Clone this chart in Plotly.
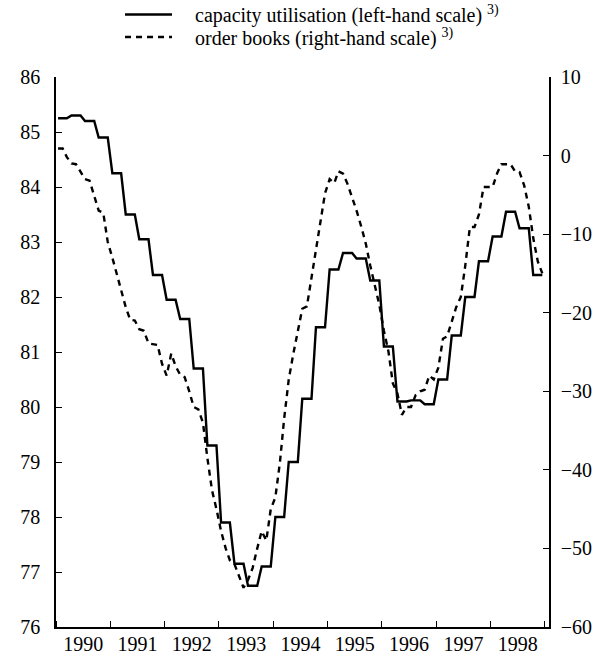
import plotly.graph_objects as go

# ---- data -------------------------------------------------------------
years = [1990, 1991, 1992, 1993, 1994, 1995, 1996, 1997, 1998]

# capacity utilisation (%), monthly (quarterly survey values held for each month)
capacity_1990 = [85.25, 85.25, 85.25, 85.3, 85.3, 85.3, 85.2, 85.2, 85.2, 84.9, 84.9, 84.9]
capacity_1991 = [84.25, 84.25, 84.25, 83.5, 83.5, 83.5, 83.05, 83.05, 83.05, 82.4, 82.4, 82.4]
capacity_1992 = [81.95, 81.95, 81.95, 81.6, 81.6, 81.6, 80.7, 80.7, 80.7, 79.3, 79.3, 79.3]
capacity_1993 = [77.9, 77.9, 77.9, 77.15, 77.15, 77.15, 76.75, 76.75, 76.75, 77.1, 77.1, 77.1]
capacity_1994 = [78.0, 78.0, 78.0, 79.0, 79.0, 79.0, 80.15, 80.15, 80.15, 81.45, 81.45, 81.45]
capacity_1995 = [82.5, 82.5, 82.5, 82.8, 82.8, 82.8, 82.7, 82.7, 82.7, 82.3, 82.3, 82.3]
capacity_1996 = [81.1, 81.1, 81.1, 80.1, 80.1, 80.1, 80.12, 80.12, 80.12, 80.05, 80.05, 80.05]
capacity_1997 = [80.5, 80.5, 80.5, 81.3, 81.3, 81.3, 82.0, 82.0, 82.0, 82.65, 82.65, 82.65]
capacity_1998 = [83.1, 83.1, 83.1, 83.55, 83.55, 83.55, 83.25, 83.25, 83.25, 82.4, 82.4, 82.4]

# order books (balance, %), monthly
orders_1990 = [0.9, 0.9, -0.2, -1.0, -1.1, -2.0, -3.0, -3.2, -5.0, -7.0, -7.3, -11.0]
orders_1991 = [-13.0, -15.2, -17.3, -19.3, -20.9, -21.0, -22.1, -22.3, -23.9, -24.0, -24.1, -26.5]
orders_1992 = [-28.0, -25.2, -26.8, -27.9, -28.2, -30.0, -32.0, -32.3, -34.0, -38.5, -42.6, -45.0]
orders_1993 = [-47.8, -50.0, -51.5, -52.0, -53.5, -55.0, -54.0, -52.5, -50.0, -47.8, -49.0, -45.0]
orders_1994 = [-43.5, -39.0, -33.5, -28.5, -25.3, -22.2, -19.5, -19.2, -15.5, -11.5, -8.0, -4.8]
orders_1995 = [-3.0, -3.5, -2.0, -2.3, -3.6, -5.2, -7.0, -9.0, -11.2, -14.0, -16.5, -19.0]
orders_1996 = [-22.3, -25.0, -29.0, -30.3, -33.0, -32.0, -32.0, -30.5, -30.0, -29.8, -28.0, -28.5]
orders_1997 = [-27.0, -23.3, -23.0, -21.2, -19.3, -18.0, -14.0, -9.1, -9.1, -7.5, -4.0, -4.0]
orders_1998 = [-4.0, -2.2, -1.1, -1.1, -1.1, -2.0, -2.1, -3.8, -6.5, -10.5, -13.5, -15.0]

capacity = (capacity_1990 + capacity_1991 + capacity_1992 + capacity_1993 + capacity_1994
            + capacity_1995 + capacity_1996 + capacity_1997 + capacity_1998)
orders = (orders_1990 + orders_1991 + orders_1992 + orders_1993 + orders_1994
          + orders_1995 + orders_1996 + orders_1997 + orders_1998)
months = [f"{y}-{m:02d}-15" for y in years for m in range(1, 13)]

name_capacity = "capacity utilisation (left-hand scale) <sup>3)</sup>"
name_orders = "order books (right-hand scale) <sup>3)</sup>"

# ---- figure -----------------------------------------------------------
FONT = "Liberation Serif, Times New Roman, serif"

fig = go.Figure()
fig.add_trace(go.Scatter(x=months, y=capacity, mode="lines", name=name_capacity,
                         line=dict(color="black", width=2.4), yaxis="y"))
fig.add_trace(go.Scatter(x=months, y=orders, mode="lines", name=name_orders,
                         line=dict(color="black", width=2.4, dash="6px,5px"), yaxis="y2"))

axis_common = dict(showgrid=False, zeroline=False, showline=True, linecolor="black",
                   linewidth=1.5, ticks="inside", ticklen=6, tickcolor="black", tickwidth=1,
                   automargin=False,
                   tickfont=dict(family=FONT, size=20, color="black"))

fig.update_layout(
    width=603, height=655,
    margin=dict(l=56, r=54, t=77, b=28, pad=0),
    paper_bgcolor="white", plot_bgcolor="white",
    showlegend=False,
    font=dict(family=FONT, size=20, color="black"),
    xaxis=dict(type="date", range=["1990-01-01", "1999-01-29"], dtick="M12",
               tick0="1990-01-01", tickformat="%Y", ticklabelmode="period",
               ticklabelstandoff=-2, **axis_common),
    yaxis=dict(range=[76, 86], dtick=1, ticklabelstandoff=10, **axis_common),
    yaxis2=dict(range=[-60, 10], dtick=10, overlaying="y", side="right",
                ticklabelstandoff=6, **axis_common),
)

# legend drawn above the plot area
legend_rows = [(1.1136, "solid", name_capacity), (1.0727, "6px,5px", name_orders)]
for ypos, dash, label in legend_rows:
    fig.add_shape(type="line", xref="paper", yref="paper", x0=0.140, x1=0.2353,
                  y0=ypos, y1=ypos, line=dict(color="black", width=2.4, dash=dash))
    fig.add_annotation(xref="paper", yref="paper", x=0.2779, y=ypos, text=label,
                       showarrow=False, xanchor="left", yanchor="middle",
                       font=dict(family=FONT, size=20, color="black"))

# remove the browser's default page margin so the figure fills the window exactly
fig.write_html("out.html", config={"displayModeBar": False},
               post_script="document.body.style.margin='0';")
